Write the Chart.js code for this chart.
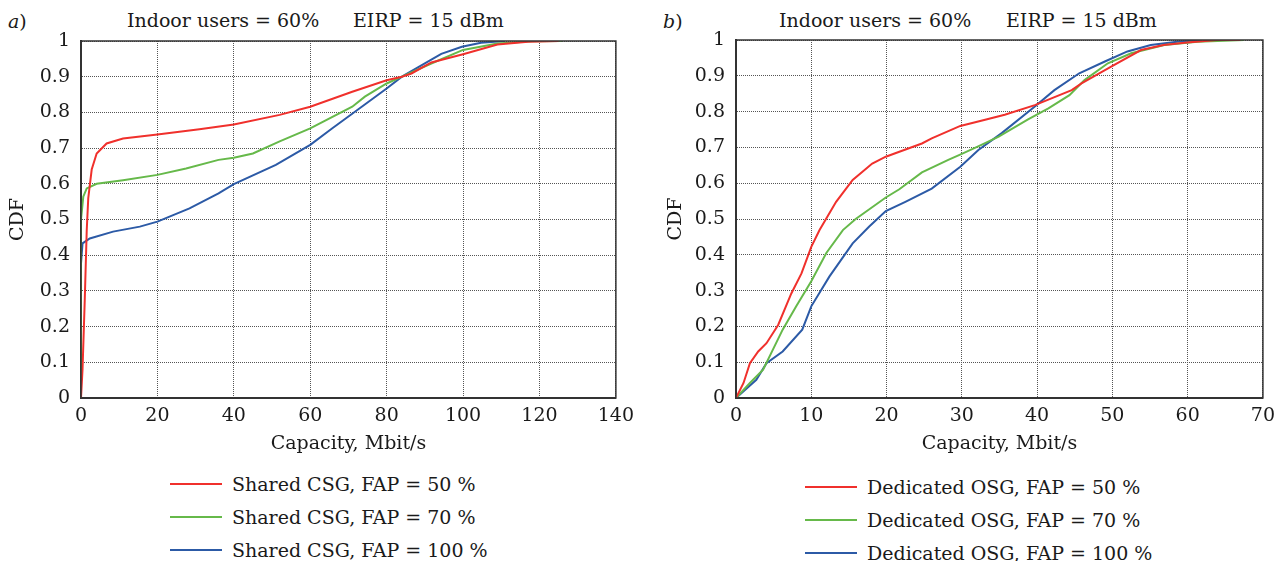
<!DOCTYPE html>
<html>
<head>
<meta charset="utf-8">
<script src="https://cdn.jsdelivr.net/npm/chart.js@4.4.0/dist/chart.umd.min.js"></script>
<style>
  body { margin: 0; background: #fff; width: 1282px; height: 561px; position: relative; overflow: hidden;
         font-family: "DejaVu Serif", serif; color: #1a1a1a; }
  .box { position: absolute; top: 0; height: 460px; }
  .txt { position: absolute; font-size: 19px; line-height: 20px; white-space: nowrap; }
  .leg { position: absolute; font-size: 19px; }
  .leg div { height: 33px; display: flex; align-items: center; white-space: nowrap; }
  .leg span.ln { display: inline-block; width: 52px; height: 2px; margin-right: 10px; }
</style>
</head>
<body>

<div class="txt" style="left:8px; top:11px;"><i>a</i>)</div>
<div class="txt" style="left:127px; top:10px;">Indoor users = 60%</div>
<div class="txt" style="left:353px; top:10px;">EIRP = 15 dBm</div>
<div class="txt" style="left:663px; top:11px;"><i>b</i>)</div>
<div class="txt" style="left:779px; top:10px;">Indoor users = 60%</div>
<div class="txt" style="left:1006px; top:10px;">EIRP = 15 dBm</div>

<div class="box" style="left:0; width:641px;"><canvas id="chartA" width="641" height="460"></canvas></div>
<div class="box" style="left:641px; width:641px;"><canvas id="chartB" width="641" height="460"></canvas></div>

<div class="leg" id="legA" style="left:170px; top:467px;"></div>
<div class="leg" id="legB" style="left:805px; top:470px;"></div>

<script>
// CDF curves, [capacity Mbit/s, CDF]
var shared50 = [[0,0],[0.4,0.08],[1,0.28],[1.5,0.47],[1.9,0.56],[2.8,0.64],[4.1,0.685],[6.7,0.713],[11,0.727],[20,0.738],
  [31,0.753],[40,0.766],[52,0.793],[60,0.816],[71,0.858],[80,0.89],[84,0.9],[86.5,0.909],[91.7,0.94],[100,0.963],
  [109,0.99],[117,0.998],[125,1]];
var shared70 = [[0,0],[0,0.5],[0.6,0.564],[1.5,0.587],[4.1,0.6],[11,0.61],[20,0.625],[27.5,0.643],[36,0.667],[40,0.673],
  [45,0.685],[52,0.719],[60,0.755],[71,0.816],[74.3,0.844],[80,0.881],[84,0.9],[91.7,0.937],[100,0.975],[109,0.993],
  [118,0.999],[126,1]];
var shared100 = [[0,0],[0,0.377],[0.4,0.433],[2.3,0.447],[8.4,0.466],[15.4,0.48],[20,0.494],[28.4,0.531],[36,0.573],
  [40,0.599],[51,0.653],[60,0.709],[65.7,0.755],[71.7,0.802],[80,0.867],[84,0.9],[90,0.937],[94.3,0.964],[99.7,0.984],
  [104.7,0.995],[111,1]];

var dedicated50 = [[0,0],[1,0.042],[1.85,0.097],[2.95,0.13],[4.05,0.153],[5.6,0.204],[7.35,0.292],[8.7,0.348],[10,0.422],
  [11.1,0.469],[13.3,0.548],[15.5,0.609],[18.1,0.655],[19.9,0.674],[21.7,0.688],[24.7,0.711],[26,0.725],[29.8,0.76],
  [33.1,0.777],[35.7,0.791],[39.7,0.818],[44.6,0.86],[45.9,0.879],[49.9,0.926],[53.8,0.972],[56.8,0.986],[59.9,0.993],
  [63.9,1],[67,1]];
var dedicated70 = [[0,0],[1.85,0.042],[3.6,0.079],[6.2,0.191],[8,0.256],[10,0.326],[12,0.405],[14.2,0.469],[15.9,0.5],
  [19.9,0.56],[21.7,0.583],[24.7,0.63],[28.2,0.665],[30,0.682],[32.6,0.707],[34.9,0.73],[38.8,0.778],[41.5,0.809],
  [44.3,0.846],[46.3,0.888],[49.4,0.935],[52.5,0.963],[56.9,0.986],[61.3,0.995],[67.5,1]];
var dedicated100 = [[0,0],[2.7,0.051],[4.05,0.097],[6.2,0.13],[8.8,0.191],[10,0.256],[12.4,0.339],[15.5,0.432],[17.7,0.479],
  [19.9,0.522],[22.5,0.548],[26,0.585],[29.8,0.646],[32.2,0.693],[35.3,0.74],[39.7,0.814],[42.3,0.86],[45.6,0.907],
  [49,0.94],[52,0.968],[55.1,0.986],[58.6,0.995],[61.9,1]];

var labelsA = ['Shared CSG, FAP = 50 %', 'Shared CSG, FAP = 70 %', 'Shared CSG, FAP = 100 %'];
var labelsB = ['Dedicated OSG, FAP = 50 %', 'Dedicated OSG, FAP = 70 %', 'Dedicated OSG, FAP = 100 %'];
var colors = ['#f0302c', '#66b94a', '#2c5aa6'];

var FONT = { family: 'DejaVu Serif', size: 19 };
var TXT = '#1a1a1a';

// closed frame around the plot area (matlab style box)
var frame = {
  id: 'frame',
  afterDraw: function (chart) {
    var a = chart.chartArea, ctx = chart.ctx;
    ctx.save();
    ctx.strokeStyle = '#333';
    ctx.lineWidth = 1.5;
    ctx.strokeRect(a.left, a.top, a.right - a.left, a.bottom - a.top);
    ctx.restore();
  }
};

function toXY(arr) {
  return arr.map(function (p) { return { x: p[0], y: p[1] }; });
}

function makeChart(el, series, labels, xMax, xStep, yAxisWidth, cdfPad, topPad, rightPad) {
  var datasets = [];
  for (var i = 0; i < series.length; i++) {
    datasets.push({
      label: labels[i],
      data: toXY(series[i]),
      borderColor: colors[i],
      borderWidth: 2,
      pointRadius: 0,
      tension: 0,
      fill: false
    });
  }
  return new Chart(el, {
    type: 'line',
    data: { datasets: datasets },
    plugins: [frame],
    options: {
      responsive: false,
      animation: false,
      layout: { padding: { left: 0, top: topPad, right: rightPad, bottom: 0 } },
      plugins: { legend: { display: false }, tooltip: { enabled: false } },
      scales: {
        x: {
          type: 'linear', min: 0, max: xMax,
          afterFit: function (s) { s.height = 62; },
          ticks: { stepSize: xStep, padding: 7, color: TXT, font: FONT, autoSkip: false, maxRotation: 0 },
          grid: { color: '#555', drawTicks: false },
          border: { color: '#333', width: 2, dash: [1, 1] }, // dash applies to the grid lines in v4
          title: { display: true, text: 'Capacity, Mbit/s', color: TXT, font: FONT, padding: { bottom: 5 } }
        },
        y: {
          type: 'linear', min: 0, max: 1,
          afterFit: function (s) { s.width = yAxisWidth; },
          ticks: { stepSize: 0.1, padding: 11, color: TXT, font: FONT, autoSkip: false,
                   callback: function (v) { return +v.toFixed(1); } },
          grid: { color: '#555', drawTicks: false },
          border: { color: '#333', width: 2, dash: [1, 1] },
          title: { display: true, text: 'CDF', color: TXT, font: FONT, padding: { top: cdfPad } }
        }
      }
    }
  });
}

makeChart(document.getElementById('chartA'), [shared50, shared70, shared100], labelsA, 140, 20, 81, 7, 41, 22);
makeChart(document.getElementById('chartB'), [dedicated50, dedicated70, dedicated100], labelsB, 70, 10, 95, 24, 40, 17);

// legends under each plot
function buildLegend(id, labels) {
  var box = document.getElementById(id);
  for (var i = 0; i < labels.length; i++) {
    var row = document.createElement('div');
    var ln = document.createElement('span');
    ln.className = 'ln';
    ln.style.background = colors[i];
    row.appendChild(ln);
    row.appendChild(document.createTextNode(labels[i]));
    box.appendChild(row);
  }
}
buildLegend('legA', labelsA);
buildLegend('legB', labelsB);
</script>
</body>
</html>
